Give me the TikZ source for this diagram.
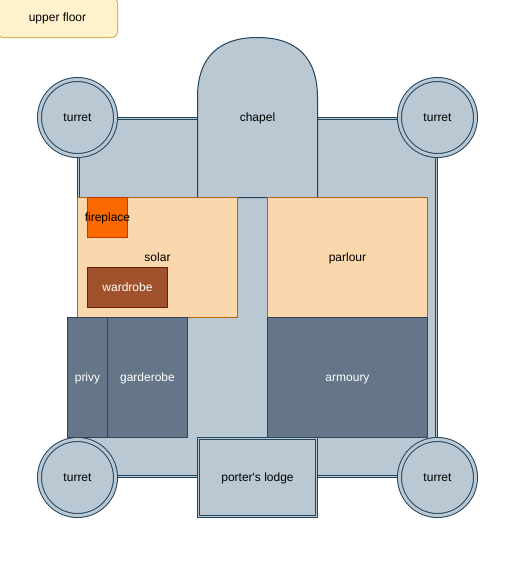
\documentclass[tikz,border=0pt]{standalone}
\usepackage{fontspec}
\newfontfamily\castlefont{Liberation Sans}

\definecolor{stonefill}{HTML}{BAC8D3}
\definecolor{stoneline}{HTML}{23445D}
\definecolor{roomfill}{HTML}{FAD7AC}
\definecolor{roomline}{HTML}{B46504}
\definecolor{darkfill}{HTML}{647687}
\definecolor{darkline}{HTML}{314354}
\definecolor{firefill}{HTML}{FA6800}
\definecolor{fireline}{HTML}{C73500}
\definecolor{woodfill}{HTML}{A0522D}
\definecolor{woodline}{HTML}{6D1F00}
\definecolor{notefill}{HTML}{FFF2CC}
\definecolor{noteline}{HTML}{D6B656}

\begin{document}
\begin{tikzpicture}[
    x=0.75pt, y=-0.75pt,
    font=\castlefont\fontsize{9}{11}\selectfont,
    every node/.style={text height=8pt, text depth=2pt},
    % Standard box styles
    box/.style={
        rectangle, draw, line width=0.75pt, inner sep=0pt, outer sep=0pt,
        align=center
    },
    room/.style={box, fill=roomfill, draw=roomline},
    store/.style={box, fill=darkfill, draw=darkline, text=white},
    fire/.style={box, fill=firefill, draw=fireline},
    wood/.style={box, fill=woodfill, draw=woodline, text=white},
    note/.style={box, fill=notefill, draw=noteline, rounded corners=4.5pt},
    % Stone walls, drawn with a double line
    stone/.style={box, fill=stonefill, draw=stoneline},
    wall/.style={stone, double=stonefill, double distance=0.75pt},
    turret/.style={
        circle, draw=stoneline, line width=0.75pt, inner sep=0pt, outer sep=0pt,
        fill=stonefill, double=stonefill, double distance=2.25pt,
        minimum size=57pt
    }
]

\clip (0, 0) rectangle (511, 562);

% ==========================================
% OUTER WALLS
% ==========================================
\node[wall, minimum width=268.5pt, minimum height=268.5pt] (bailey) at (257.5, 297.5) {};

% --- Chapel ---
\draw[line width=0.75pt, draw=stoneline, fill=stonefill]
    (197.5, 197.5) -- (197.5, 97.5)
    .. controls (197.5, 58) and (218, 37.5) .. (257.5, 37.5)
    .. controls (297, 37.5) and (317.5, 58) .. (317.5, 97.5)
    -- (317.5, 197.5) -- cycle;
\node (chapel) at (257.5, 117.5) {chapel};

% --- Turrets ---
\node[turret] (turretnw) at (77.5, 117.5) {turret};
\node[turret] (turretne) at (437.5, 117.5) {turret};
\node[turret] (turretsw) at (77.5, 477.5) {turret};
\node[turret] (turretse) at (437.5, 477.5) {turret};

% --- Gatehouse ---
\node[wall, minimum width=88.5pt, minimum height=58.5pt] (lodge) at (257.5, 477.5) {porter's lodge};

% ==========================================
% ROOMS
% ==========================================
\node[room, minimum width=120pt, minimum height=90pt] (solar) at (157.5, 257.5) {solar};
\node[room, minimum width=120pt, minimum height=90pt] (parlour) at (347.5, 257.5) {parlour};
\node[fire, minimum width=30pt, minimum height=30pt] (fireplace) at (107.5, 217.5) {\makebox[0pt]{fireplace}};
\node[wood, minimum width=60pt, minimum height=30pt] (wardrobe) at (127.5, 287.5) {wardrobe};

\node[store, minimum width=30pt, minimum height=90pt] (privy) at (87.5, 377.5) {privy};
\node[store, minimum width=60pt, minimum height=90pt] (garderobe) at (147.5, 377.5) {garderobe};
\node[store, minimum width=120pt, minimum height=90pt] (armoury) at (347.5, 377.5) {armoury};

% ==========================================
% CAPTION
% ==========================================
\node[note, minimum width=90pt, minimum height=30pt] (floor) at (57.5, 17.5) {upper floor};

\end{tikzpicture}
\end{document}
